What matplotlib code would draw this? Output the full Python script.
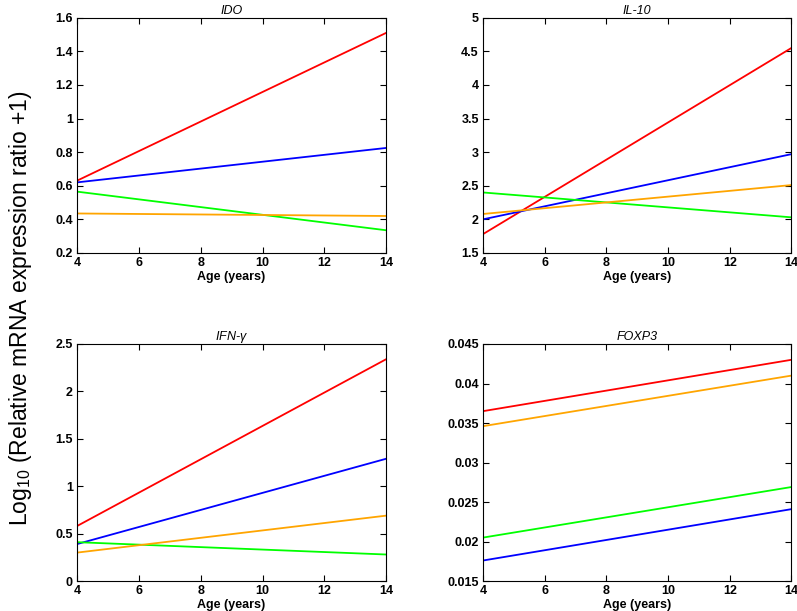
import matplotlib
matplotlib.use('Agg')
import matplotlib.pyplot as plt

plt.rcParams['font.family'] = ['Liberation Sans', 'DejaVu Sans']
plt.rcParams['mathtext.fontset'] = 'custom'
plt.rcParams['mathtext.rm'] = 'Liberation Sans'
plt.rcParams['mathtext.it'] = 'Liberation Sans:italic'

ages = [4, 14]

# endpoint values at age 4 and 14, one list per gene
ido_red = [0.63, 1.51]
ido_blue = [0.62, 0.825]
ido_green = [0.565, 0.335]
ido_orange = [0.435, 0.42]

il10_red = [1.78, 4.55]
il10_blue = [2.0, 2.97]
il10_green = [2.4, 2.03]
il10_orange = [2.08, 2.51]

ifn_red = [0.58, 2.34]
ifn_blue = [0.39, 1.29]
ifn_green = [0.41, 0.28]
ifn_orange = [0.30, 0.69]

foxp3_red = [0.0365, 0.0430]
foxp3_blue = [0.0176, 0.0241]
foxp3_green = [0.0205, 0.0269]
foxp3_orange = [0.0346, 0.0410]

titles = ['IDO', 'IL-10', r'IFN-$\gamma$', 'FOXP3']
ylims = [(0.2, 1.6), (1.5, 5), (0, 2.5), (0.015, 0.045)]
yticks = [
    [0.2, 0.4, 0.6, 0.8, 1, 1.2, 1.4, 1.6],
    [1.5, 2, 2.5, 3, 3.5, 4, 4.5, 5],
    [0, 0.5, 1, 1.5, 2, 2.5],
    [0.015, 0.02, 0.025, 0.03, 0.035, 0.04, 0.045],
]
yticklabels = [
    ['0.2', '0.4', '0.6', '0.8', '1', '1.2', '1.4', '1.6'],
    ['1.5', '2', '2.5', '3', '3.5', '4', '4.5', '5'],
    ['0', '0.5', '1', '1.5', '2', '2.5'],
    ['0.015', '0.02', '0.025', '0.03', '0.035', '0.04', '0.045'],
]
series = [
    (ido_red, ido_blue, ido_green, ido_orange),
    (il10_red, il10_blue, il10_green, il10_orange),
    (ifn_red, ifn_blue, ifn_green, ifn_orange),
    (foxp3_red, foxp3_blue, foxp3_green, foxp3_orange),
]
colors = ['#ff0000', '#0000ff', '#00ff00', '#ffa500']

fig = plt.figure(figsize=(7.97, 6.11), dpi=100)
rects = [
    [0.0966, 0.586, 0.388, 0.385],
    [0.606, 0.586, 0.387, 0.385],
    [0.0966, 0.049, 0.388, 0.388],
    [0.606, 0.049, 0.387, 0.388],
]

for i in range(4):
    ax = fig.add_axes(rects[i])
    for vals, c in zip(series[i], colors):
        ax.plot(ages, vals, color=c, lw=1.3)
    ax.set_xlim(4, 14)
    ax.set_ylim(*ylims[i])
    ax.set_xticks([4, 6, 8, 10, 12, 14])
    ax.set_yticks(yticks[i])
    ax.set_yticklabels(yticklabels[i])
    ax.tick_params(direction='in', top=True, right=True, labelsize=9, length=4, pad=3)
    for lab in ax.get_xticklabels() + ax.get_yticklabels():
        lab.set_fontweight('bold')
    ax.set_xlabel('Age (years)', fontsize=9, fontweight='bold', labelpad=1)
    ax.set_title(titles[i], fontsize=9, style='italic', pad=3)

fig.text(0.026, 0.496, r'Log$_{10}$ (Relative mRNA expression ratio +1)',
         rotation=90, va='center', ha='center', fontsize=16.5)

fig.savefig('out.png', dpi=100)
